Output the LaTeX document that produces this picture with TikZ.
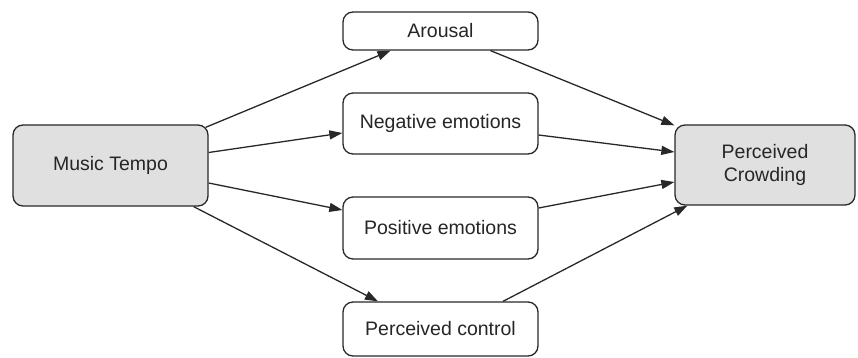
\documentclass[tikz,border=0pt]{standalone}
\usepackage{fontspec}
\setmainfont{Liberation Sans}
\usetikzlibrary{arrows.meta}

\definecolor{boxgray}{RGB}{224,224,224}
\definecolor{linegray}{RGB}{40,40,40}

\tikzset{
    factor/.style = {draw = linegray, line width = 1.3pt, rounded corners = 10pt,
        inner sep = 0pt, align = center, text = black!85,
        font = \fontsize{19.5}{23}\selectfont},
    mainbox/.style = {factor, fill = boxgray, minimum width = 195pt, minimum height = 81pt},
    midbox/.style = {factor, fill = white, minimum width = 195pt},
    link/.style = {draw = linegray, line width = 1.3pt,
        -{Triangle[length = 13pt, width = 9pt]}}
}

\begin{document}
\begin{tikzpicture}[x = 1pt, y = -1pt]
    \useasboundingbox (0,0) rectangle (858,358);
    % left and right boxes
    \node[mainbox] (tempo) at (110.5,165.5) {Music Tempo};
    \node[mainbox, minimum width = 180pt, minimum height = 80pt] (crowd) at (765,165) {Perceived\\Crowding};
    % mediators
    \node[midbox, minimum height = 38pt] (arousal) at (440.5,31) {Arousal};
    \node[midbox, minimum height = 61pt] (negemo) at (440.5,123.5) {Negative emotions};
    \node[midbox, minimum height = 62pt] (posemo) at (440.5,228) {Positive emotions};
    \node[midbox, minimum height = 54pt] (control) at (440.5,329) {Perceived control};
    % tempo -> mediators
    \draw[link] ([xshift = -3pt, yshift = -3pt]tempo.north east) -- ([xshift = -50pt]arousal.south);
    \draw[link] ([yshift = 13pt]tempo.east) -- ([yshift = -9.5pt]negemo.west);
    \draw[link] ([yshift = -17.5pt]tempo.east) -- ([yshift = 18pt]posemo.west);
    \draw[link] ([xshift = -15pt]tempo.south east) -- ([xshift = -62.5pt]control.north);
    % mediators -> crowding
    \draw[link] ([xshift = 50pt]arousal.south) -- ([yshift = -1pt]crowd.north west);
    \draw[link] ([yshift = -11.5pt]negemo.east) -- ([yshift = 13pt]crowd.west);
    \draw[link] ([yshift = 20pt]posemo.east) -- ([yshift = -17pt]crowd.west);
    \draw[link] ([xshift = 62.5pt]control.north) -- ([xshift = 13pt]crowd.south west);
\end{tikzpicture}
\end{document}
